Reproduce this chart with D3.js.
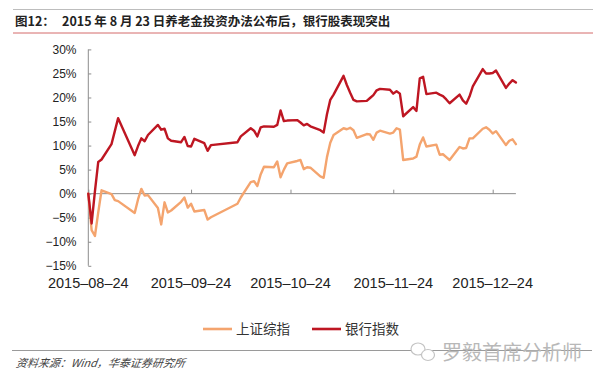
<!DOCTYPE html>
<html>
<head>
<meta charset="utf-8">
<script src="https://cdn.jsdelivr.net/npm/d3@7/dist/d3.min.js"></script>
<style>
  html, body { margin: 0; padding: 0; background: #fff; }
  svg { display: block; }
</style>
</head>
<body>
<svg id="chart" width="600" height="384"></svg>
<script>
// ---------- data ----------
const dates = [
  "2015-08-24","2015-08-25","2015-08-26","2015-08-27","2015-08-28","2015-08-31",
  "2015-09-01","2015-09-02","2015-09-07","2015-09-08","2015-09-09","2015-09-10","2015-09-11",
  "2015-09-14","2015-09-15","2015-09-16","2015-09-17","2015-09-18",
  "2015-09-21","2015-09-22","2015-09-23","2015-09-24","2015-09-25",
  "2015-09-28","2015-09-29","2015-09-30",
  "2015-10-08","2015-10-09",
  "2015-10-12","2015-10-13","2015-10-14","2015-10-15","2015-10-16",
  "2015-10-19","2015-10-20","2015-10-21","2015-10-22","2015-10-23",
  "2015-10-26","2015-10-27","2015-10-28","2015-10-29","2015-10-30",
  "2015-11-02","2015-11-03","2015-11-04","2015-11-05","2015-11-06",
  "2015-11-09","2015-11-10","2015-11-11","2015-11-12","2015-11-13",
  "2015-11-16","2015-11-17","2015-11-18","2015-11-19","2015-11-20",
  "2015-11-23","2015-11-24","2015-11-25","2015-11-26","2015-11-27",
  "2015-11-30","2015-12-01","2015-12-02","2015-12-03","2015-12-04",
  "2015-12-07","2015-12-08","2015-12-09","2015-12-10","2015-12-11",
  "2015-12-14","2015-12-15","2015-12-16","2015-12-17","2015-12-18",
  "2015-12-21","2015-12-22","2015-12-23","2015-12-24","2015-12-25",
  "2015-12-28","2015-12-29","2015-12-30","2015-12-31"
];
// 上证综指 (%)
const shIndex = [
  0, -7.6, -8.8, -3.9, 0.7, -0.1,
  -1.35, -1.55, -4.0, -1.2, 1.0, -0.4, -0.3,
  -3.0, -6.4, -1.8, -3.9, -3.5,
  -1.7, -0.8, -2.9, -2.1, -3.7,
  -3.4, -5.4, -4.9,
  -2.1, -0.8,
  2.4, 2.6, 1.6, 4.0, 5.6,
  5.5, 6.7, 3.4, 5.0, 6.3,
  6.8, 7.0, 5.1, 5.5, 5.4,
  3.6, 3.3, 7.6, 10.6, 12.2,
  13.6, 13.4, 13.7, 13.2, 11.6,
  12.4, 12.3, 11.2, 12.7, 13.1,
  12.5, 12.7, 13.6, 13.3, 7.0,
  7.3, 7.7, 10.2, 11.7, 9.8,
  10.2, 8.1, 8.2, 7.6, 7.0,
  9.7, 9.4, 9.5, 11.5, 11.5,
  13.5, 13.8, 13.3, 12.5, 13.0,
  10.1, 11.0, 11.3, 10.3
];
// 银行指数 (%)
const bankIndex = [
  0, -6.2, 0.5, 6.6, 7.1, 10.3,
  13.0, 15.7, 8.0, 9.9, 11.5, 10.9, 12.2,
  14.3, 13.3, 13.5, 11.5, 11.0,
  10.7, 11.8, 9.9, 9.8, 11.4,
  10.5, 8.9, 10.1,
  10.7, 11.9,
  13.6, 13.1, 11.9, 13.8, 14.0,
  13.9, 14.3, 17.3, 15.1, 15.2,
  15.3, 14.8, 14.2, 14.5, 14.0,
  13.2, 12.7, 16.5, 19.5, 20.6,
  24.5, 22.6, 21.0, 19.5, 19.2,
  19.3, 19.9, 20.5, 21.5, 21.8,
  21.6, 20.8, 21.3, 20.8, 16.1,
  18.0, 17.2, 24.0, 24.3, 20.7,
  21.0, 20.6, 20.3, 19.6, 18.8,
  20.6, 19.4, 18.7, 20.2, 22.3,
  25.9, 25.0, 25.0, 25.1, 25.6,
  22.0, 22.9, 23.6, 23.1
];
const yTicks = [-15, -10, -5, 0, 5, 10, 15, 20, 25, 30];
const xTickLabels = ["2015-08-24","2015-09-24","2015-10-24","2015-11-24","2015-12-24"];
const seriesNames = ["上证综指", "银行指数"];
const titleLabel = "图12：";
const titleText = "2015 年 8 月 23 日养老金投资办法公布后，银行股表现突出";
const sourceText = "资料来源：Wind，华泰证券研究所";
const watermark = "罗毅首席分析师";

// ---------- drawing ----------
const parse = d3.timeParse("%Y-%m-%d");
const svg = d3.select("#chart");
const colors = ["#F4A46E", "#BE1622"];

const x = d3.scaleTime()
  .domain([parse(dates[0]), parse(dates[dates.length - 1])])
  .range([88.3, 515.9]);
const y = d3.scaleLinear().domain([-15, 30]).range([265.8, 49.4]);

const sans = "'Liberation Sans', Arial, 'Noto Sans CJK SC', sans-serif";
const cjk = "'Noto Sans CJK SC', 'Liberation Sans', sans-serif";

// header lines
svg.append("line").attr("x1", 13).attr("x2", 593).attr("y1", 9.5).attr("y2", 9.5)
  .attr("stroke", "#bdbdbd").attr("stroke-width", 1);
svg.append("line").attr("x1", 13).attr("x2", 593).attr("y1", 33).attr("y2", 33)
  .attr("stroke", "#d46a6a").attr("stroke-width", 1);

const title = svg.append("text").attr("x", 15).attr("y", 26)
  .attr("font-family", cjk).attr("font-size", 12.5).attr("font-weight", "bold").attr("fill", "#222");
title.append("tspan").text(titleLabel);
title.append("tspan").attr("x", 62).text(titleText);

// y axis
const yAxis = d3.axisRight(y).tickValues(yTicks).tickSize(3).tickFormat("");
const gy = svg.append("g").attr("transform", "translate(88.3,0)").call(yAxis);
gy.select(".domain").attr("stroke", "#8c8c8c").attr("d", `M0,${y(-15)}V${y(30)}`);
gy.selectAll(".tick line").attr("stroke", "#8c8c8c");

svg.append("g").selectAll("text").data(yTicks).join("text")
  .attr("x", 76.5).attr("y", d => y(d)).attr("dy", "0.36em")
  .attr("text-anchor", "end").attr("font-family", sans).attr("font-size", 12)
  .attr("fill", "#222")
  .text(d => (d < 0 ? "\u2212" + Math.abs(d) : d) + "%");

// x axis at 0
const xTickDates = xTickLabels.map(parse);
const xAxis = d3.axisTop(x).tickValues(xTickDates).tickSize(4).tickFormat("");
const gx = svg.append("g").attr("transform", `translate(0,${y(0)})`).call(xAxis);
gx.select(".domain").attr("stroke", "#8c8c8c").attr("d", `M${x.range()[0]},0H${x.range()[1]}`);
gx.selectAll(".tick line").attr("stroke", "#8c8c8c");

svg.append("g").selectAll("text").data(xTickLabels).join("text")
  .attr("x", d => x(parse(d))).attr("y", 288)
  .attr("text-anchor", "middle").attr("font-family", sans).attr("font-size", 14.5)
  .attr("fill", "#222")
  .text(d => d.replace(/-/g, "\u2013"));

// lines
const allSeries = [shIndex, bankIndex];
const line = d3.line()
  .x((d, i) => x(parse(dates[i])))
  .y(d => y(d));
allSeries.forEach((s, k) => {
  svg.append("path").datum(s)
    .attr("fill", "none").attr("stroke", colors[k]).attr("stroke-width", 2.4)
    .attr("stroke-linejoin", "round").attr("stroke-linecap", "round")
    .attr("d", line);
});

// legend
const legendX = [203, 312];
seriesNames.forEach((n, k) => {
  svg.append("line").attr("x1", legendX[k]).attr("x2", legendX[k] + 29)
    .attr("y1", 329).attr("y2", 329)
    .attr("stroke", colors[k]).attr("stroke-width", 2.6);
  svg.append("text").attr("x", legendX[k] + 33).attr("y", 329).attr("dy", "0.36em")
    .attr("font-family", cjk).attr("font-size", 13.5).attr("fill", "#333").text(n);
});

// footer
svg.append("line").attr("x1", 12).attr("x2", 592).attr("y1", 350.5).attr("y2", 350.5)
  .attr("stroke", "#9a9a9a").attr("stroke-width", 1);
svg.append("text").attr("x", 15).attr("y", 367)
  .attr("font-family", cjk).attr("font-size", 11).attr("font-style", "italic")
  .attr("fill", "#444").attr("transform", "skewX(-8) translate(52,0)")
  .text(sourceText);

// watermark
const wm = svg.append("g");
wm.append("ellipse").attr("cx", 418).attr("cy", 349).attr("rx", 7).attr("ry", 6)
  .attr("fill", "#fff").attr("stroke", "#c4c4c4").attr("stroke-width", 1.2);
wm.append("ellipse").attr("cx", 428).attr("cy", 355).attr("rx", 6.5).attr("ry", 5.5)
  .attr("fill", "#fff").attr("stroke", "#c4c4c4").attr("stroke-width", 1.2);
wm.append("text").attr("x", 442).attr("y", 360)
  .attr("font-family", cjk).attr("font-size", 20).attr("fill", "#b8b8b8")
  .text(watermark);
</script>
</body>
</html>
